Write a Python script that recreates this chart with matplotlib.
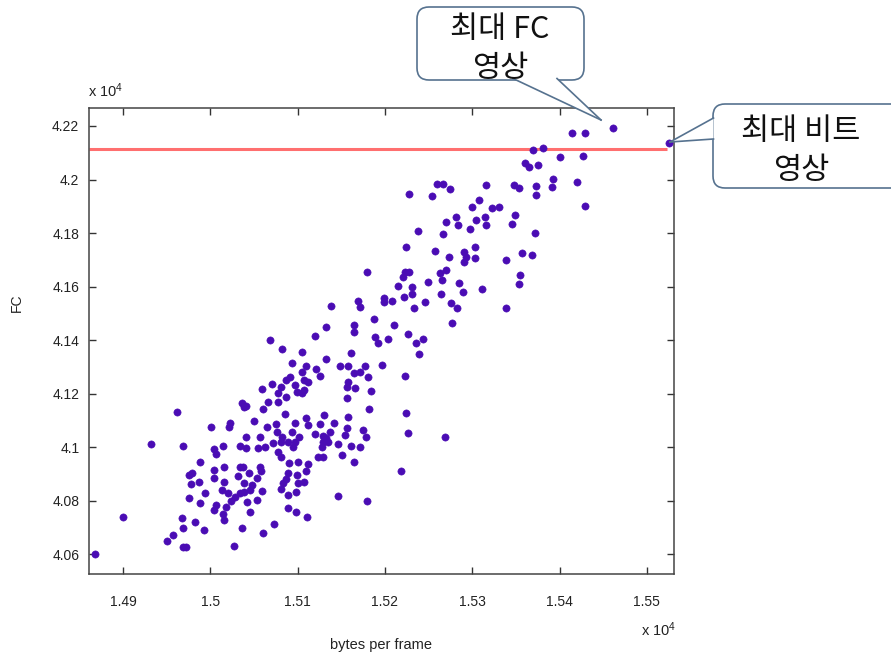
import matplotlib
matplotlib.use('Agg')
import matplotlib.pyplot as plt
from matplotlib.patches import FancyBboxPatch, Polygon
from matplotlib.lines import Line2D
from matplotlib.transforms import IdentityTransform

# ---------------- data ----------------
bytes_per_frame = [
    15461, 15525, 15414, 15429, 15370, 15381, 15400, 15427, 15360, 15365, 15375, 15392, 15391, 15420, 15373,
    15373, 15348, 15353, 15316, 15259, 15267, 15275, 15227, 15254, 15308, 15429, 15300, 15323, 15331,
    15281, 15284, 15304, 15315, 15316, 15297, 15349, 15345, 15372, 15290, 15293, 15290, 15303, 15303, 15339,
    15357, 15368, 15355, 15353, 15285, 15289, 15311, 15276, 15283, 15339, 15277,
    15270, 15238, 15266, 15224, 15257, 15273, 15179, 15223, 15228, 15221, 15263, 15270, 15265, 15249, 15215,
    15231, 15231, 15222, 15264, 15246, 15199, 15199, 15208, 15169, 15171, 15233, 15138, 15187, 15133, 15164, 15210,
    15120, 15164, 15189, 15192, 15204, 15226, 15236, 15243, 15239, 15105, 15161, 15132, 15110, 15105, 15121,
    15126, 15148, 15158, 15177, 15197, 15164, 15171, 15181, 15223, 15107, 15112, 15158, 15156, 15166, 15184,
    15107, 15105, 15156, 15182, 15224, 15130, 15158, 15110, 15112, 15126, 15142, 15156, 15175, 15120, 15129,
    15137, 15154, 15178, 15226, 15269, 15133,
    15068, 15082, 15094, 15091, 15087, 15097, 15071, 15081, 15078, 15059, 15099, 15087, 15077, 15066, 15036,
    15038, 15041, 15060, 15086, 14962, 15050, 15023, 15021, 15001, 15065, 15075, 15097, 15076, 15041, 15057,
    15082, 15093, 15101,
    14932, 14969, 15004, 15006, 15015, 15034, 15041, 15055, 15062, 14988, 15004, 15016, 15034, 15037, 15057,
    15058, 14975, 14979, 15004, 15032, 15044, 15053, 14978, 14987, 15016, 15039, 15048, 15013, 15020, 15028,
    15034, 15039, 15045, 15059, 14994, 14975, 14988, 15024, 15042, 15053, 15007, 15004, 15018, 15015, 15045,
    15016, 14900, 14967, 14982, 14969, 14993, 15036, 15060, 14957, 14950, 14969, 14972, 15027, 14868,
    15072, 15081, 15089, 15097, 15095, 15078, 15081, 15090, 15100, 15129, 15135, 15128, 15146, 15161, 15171,
    15123, 15129, 15151, 15165, 15112, 15110, 15089, 15099, 15087, 15100, 15107, 15083, 15081, 15098, 15089,
    15146, 15179, 15218, 15089, 15098, 15111, 15073,
]
fc = [
    42191, 42135, 42175, 42175, 42110, 42117, 42083, 42088, 42063, 42048, 42054, 42001, 41971, 41992, 41976,
    41941, 41980, 41968, 41980, 41982, 41982, 41964, 41946, 41940, 41924, 41901, 41896, 41893, 41896,
    41859, 41830, 41849, 41861, 41830, 41815, 41868, 41833, 41799, 41731, 41712, 41693, 41747, 41706, 41700,
    41725, 41718, 41644, 41609, 41613, 41581, 41591, 41538, 41519, 41519, 41463,
    41843, 41809, 41797, 41747, 41734, 41712, 41656, 41656, 41656, 41637, 41650, 41662, 41625, 41616, 41604,
    41598, 41571, 41562, 41571, 41542, 41559, 41544, 41548, 41548, 41523, 41519, 41529, 41479, 41450, 41457, 41457,
    41416, 41432, 41413, 41391, 41403, 41422, 41388, 41404, 41347, 41357, 41353, 41330, 41305, 41282, 41291,
    41267, 41304, 41304, 41304, 41307, 41276, 41280, 41264, 41267, 41251, 41245, 41245, 41226, 41223, 41211,
    41214, 41202, 41183, 41143, 41127, 41121, 41112, 41108, 41083, 41086, 41092, 41073, 41065, 41050, 41042,
    41058, 41046, 41040, 41052, 41037, 41034,
    41401, 41366, 41314, 41264, 41251, 41233, 41235, 41226, 41204, 41217, 41208, 41189, 41170, 41170, 41167,
    41149, 41154, 41143, 41123, 41131, 41098, 41092, 41077, 41075, 41075, 41086, 41092, 41058, 41037, 41037,
    41040, 41058, 41040,
    41011, 41005, 40994, 40975, 41005, 41005, 40996, 40996, 41002, 40946, 40915, 40925, 40925, 40925, 40928,
    40913, 40897, 40903, 40884, 40893, 40903, 40884, 40862, 40871, 40871, 40866, 40859, 40840, 40828, 40815,
    40828, 40834, 40840, 40838, 40828, 40809, 40791, 40800, 40797, 40803, 40784, 40766, 40778, 40751, 40759,
    40728, 40741, 40735, 40722, 40697, 40691, 40697, 40679, 40672, 40651, 40626, 40629, 40632, 40601,
    41017, 41021, 41021, 41021, 41000, 40984, 40963, 40942, 40946, 41021, 41021, 41000, 41012, 41005, 41000,
    40965, 40965, 40971, 40946, 40938, 40913, 40903, 40897, 40880, 40868, 40871, 40866, 40843, 40834, 40822,
    40818, 40800, 40913, 40772, 40759, 40741, 40714,
]

ref_line_fc = 42113            # red horizontal reference line
ref_line_x = [14861, 15523]    # extent of the red line

x_ticks = [14900, 15000, 15100, 15200, 15300, 15400, 15500]
y_ticks = [40600, 40800, 41000, 41200, 41400, 41600, 41800, 42000, 42200]
x_tick_labels = ['1.49', '1.5', '1.51', '1.52', '1.53', '1.54', '1.55']
y_tick_labels = ['4.06', '4.08', '4.1', '4.12', '4.14', '4.16', '4.18', '4.2', '4.22']
x_limits = [14861, 15531]
y_limits = [40527, 42267]

callout_fc_text = '최대 FC\n영상'
callout_bit_text = '최대 비트\n영상'

# ---------------- figure ----------------
plt.rcParams['font.family'] = ['Liberation Sans', 'DejaVu Sans']
plt.rcParams['mathtext.default'] = 'regular'

W, H = 891, 658
fig = plt.figure(figsize=(W / 100, H / 100), dpi=100)
fig.patch.set_facecolor('white')

ax = fig.add_axes([89 / W, 1 - 574 / H, (674 - 89) / W, (574 - 108) / H])
ax.plot(bytes_per_frame, fc, 'o', ms=5.2, color='#4a0cb4', mec='#4a0cb4', mew=0.4,
        zorder=3, clip_on=False)
ax.hlines(ref_line_fc, ref_line_x[0], ref_line_x[1], color='#ff6f6f', lw=2.2, zorder=2)

ax.set_xlim(x_limits)
ax.set_ylim(y_limits)
ax.set_xticks(x_ticks)
ax.set_xticklabels(x_tick_labels)
ax.set_yticks(y_ticks)
ax.set_yticklabels(y_tick_labels)
ax.tick_params(direction='in', top=True, right=True, length=5, width=1.0,
               color='#333333', labelsize=10, labelcolor='#222222')
ax.tick_params(axis='x', pad=15)
ax.tick_params(axis='y', pad=7)
for s in ax.spines.values():
    s.set_color('#444444')
    s.set_linewidth(1.1)


def fx(px):
    return px / W


def fy(py):
    return 1 - py / H


txt_kw = dict(color='#222222', fontsize=10.5)
fig.text(fx(88), fy(91), 'x 10$^{4}$', ha='left', va='center', **txt_kw)
fig.text(fx(676), fy(630), 'x 10$^{4}$', ha='right', va='center', **txt_kw)
fig.text(fx(381), fy(645), 'bytes per frame', ha='center', va='center', **txt_kw)
fig.text(fx(17), fy(303), 'FC', ha='center', va='center', rotation=90, color='#222222', fontsize=10)

# ---------------- callouts (drawn in output pixels) ----------------
ident = IdentityTransform()
edge = '#56728f'


def P(px, py):
    return (px, H - py)


def callout(x0, y0, x1, y1, base1, tip, base2, text, tx, ty):
    box = FancyBboxPatch(P(x0, y1), x1 - x0, y1 - y0,
                         boxstyle='round,pad=0,rounding_size=12',
                         facecolor='white', edgecolor=edge, lw=1.2,
                         transform=ident, zorder=10)
    fig.add_artist(box)
    tail = Polygon([P(*base1), P(*tip), P(*base2)], closed=True, facecolor='white',
                   edgecolor='none', transform=ident, zorder=11)
    fig.add_artist(tail)
    for a, b in [(base1, tip), (tip, base2)]:
        ln = Line2D([P(*a)[0], P(*b)[0]], [P(*a)[1], P(*b)[1]], color=edge, lw=1.2,
                    transform=ident, zorder=12)
        fig.add_artist(ln)
    fig.text(fx(tx), fy(ty), text, ha='center', va='center', fontsize=22,
             family=['Noto Sans CJK KR', 'DejaVu Sans'], color='#111111',
             linespacing=1.3, zorder=13)


callout(417, 7, 584, 80, (513, 78.5), (601, 120), (557, 78.5), callout_fc_text, 500, 49)
callout(713, 104, 905, 188, (713.5, 118), (670, 142), (713.5, 139), callout_bit_text, 801, 151)

fig.savefig('out.png', dpi=100)
